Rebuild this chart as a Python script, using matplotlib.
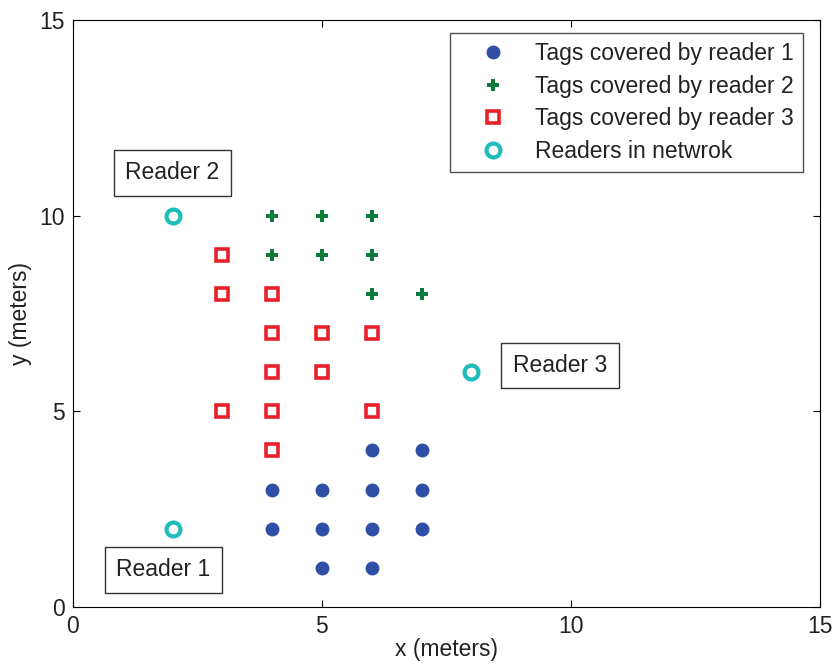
import matplotlib.pyplot as plt

plt.rcParams['font.family'] = ['Liberation Sans', 'DejaVu Sans']

# tags covered by reader 1
r1_x = [5, 6, 4, 5, 6, 7, 4, 5, 6, 7, 6, 7]
r1_y = [1, 1, 2, 2, 2, 2, 3, 3, 3, 3, 4, 4]
# tags covered by reader 2
r2_x = [4, 5, 6, 4, 5, 6, 6, 7]
r2_y = [10, 10, 10, 9, 9, 9, 8, 8]
# tags covered by reader 3
r3_x = [3, 3, 4, 4, 5, 6, 4, 5, 3, 4, 6, 4]
r3_y = [9, 8, 8, 7, 7, 7, 6, 6, 5, 5, 5, 4]
# readers
rd_x = [2, 2, 8]
rd_y = [10, 2, 6]
rd_names = ["Reader 2", "Reader 1", "Reader 3"]
rd_label_x = [1.99, 1.81, 9.78]
rd_label_y = [11.1, 0.95, 6.17]

fs = 16.5
fig = plt.figure(figsize=(8.34, 6.66), dpi=100)
ax = fig.add_axes([0.0875, 0.0886, 0.8955, 0.8814])

ax.plot(r1_x, r1_y, 'o', color='#2f4fa6', markersize=9, label='Tags covered by reader 1')
ax.plot(r2_x, r2_y, 'P', color='#0b7a3b', markersize=9, markeredgewidth=0, label='Tags covered by reader 2')
ax.plot(r3_x, r3_y, 's', color='#e8202a', markerfacecolor='white', markersize=8.5,
        markeredgewidth=2.6, label='Tags covered by reader 3')
ax.plot(rd_x, rd_y, 'o', color='#1fbcbc', markerfacecolor='white', markersize=10,
        markeredgewidth=3, label='Readers in netwrok')

for name, tx, ty in zip(rd_names, rd_label_x, rd_label_y):
    ax.text(tx, ty, name, fontsize=fs, ha='center', va='center', color='#222222',
            bbox=dict(boxstyle='square,pad=0.5', facecolor='white', edgecolor='#333333', linewidth=1))

ax.set_xlim(0, 15)
ax.set_ylim(0, 15)
ax.set_xticks([0, 5, 10, 15])
ax.set_yticks([0, 5, 10, 15])
ax.tick_params(direction='in', top=True, right=True, labelsize=fs, length=5, pad=6,
               labelcolor='#222222')
ax.set_xlabel('x (meters)', fontsize=fs, labelpad=0, color='#222222')
ax.set_ylabel('y (meters)', fontsize=fs, labelpad=5, color='#222222')

leg = ax.legend(loc='upper right', bbox_to_anchor=(0.977, 0.978), fontsize=fs, frameon=True,
                fancybox=False, edgecolor='#222222', handlelength=3.0, handletextpad=0.3,
                borderaxespad=0, labelspacing=0.42, borderpad=0.4)
leg.get_frame().set_linewidth(1)
for t in leg.get_texts():
    t.set_color('#222222')

fig.savefig('out.png', dpi=100)
